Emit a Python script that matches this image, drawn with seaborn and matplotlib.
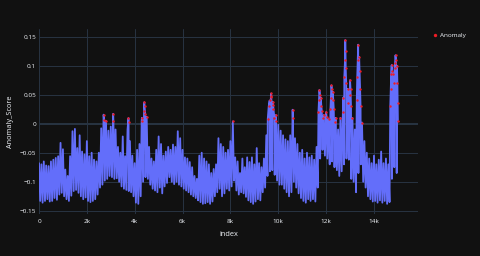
import numpy as np
import pandas as pd
import matplotlib
matplotlib.use('Agg')
import matplotlib.pyplot as plt
import seaborn as sns
from matplotlib.ticker import FixedLocator, FixedFormatter


	# DATA

# top of the noisy band, one value every 100 rows (0 .. 15000)
upper = [-0.068, -0.070, -0.065, -0.072, -0.073, -0.065, -0.062, -0.059, -0.056, -0.033,
         -0.044, -0.079, -0.090, -0.056, -0.013, -0.009, -0.042, -0.020, -0.048, -0.053,
         -0.030, -0.056, -0.050, -0.062, -0.065, -0.050, -0.008, 0.0155, 0.005, -0.012,
         -0.005, 0.017, -0.010, -0.040, -0.050, -0.022, -0.056, -0.010, -0.030, -0.055,
         -0.068, -0.045, -0.035, 0.010, 0.037, 0.012, -0.040, -0.060, -0.065, -0.045,
         -0.022, -0.035, -0.055, -0.048, -0.040, -0.045, -0.036, -0.040, -0.013, -0.025,
         -0.045, -0.058, -0.060, -0.066, -0.075, -0.090, -0.095, -0.055, -0.050, -0.060,
         -0.065, -0.070, -0.085, -0.078, -0.070, -0.025, -0.035, -0.040, -0.050, -0.045,
         -0.030, 0.004, -0.058, -0.065, -0.085, -0.060, -0.075, -0.058, -0.066, -0.058,
         -0.070, -0.042, -0.068, -0.075, -0.060, -0.020, 0.030, 0.052, 0.025, 0.015,
         -0.002, -0.012, -0.020, -0.027, -0.030, -0.020, 0.024, -0.025, -0.035, -0.050,
         -0.045, -0.060, -0.050, -0.058, -0.055, -0.062, -0.040, 0.040, 0.030, 0.015,
         0.020, 0.008, 0.045, 0.040, 0.010, -0.010, 0.010, 0.020, 0.144, 0.060,
         0.075, 0.010, -0.010, 0.080, 0.090, 0.002, -0.030, -0.050, -0.060, -0.068,
         -0.055, -0.070, -0.062, -0.048, -0.068, -0.060, -0.070, 0.060, 0.085, 0.118,
         0.005]

# bottom of the band, one value every 100 rows (50 .. 14950)
lower = [-0.133, -0.136, -0.133, -0.130, -0.134, -0.133, -0.128, -0.131, -0.122, -0.119,
         -0.125, -0.130, -0.133, -0.124, -0.116, -0.114, -0.119, -0.125, -0.130, -0.127,
         -0.133, -0.135, -0.133, -0.130, -0.122, -0.110, -0.105, -0.098, -0.095, -0.090,
         -0.092, -0.095, -0.094, -0.100, -0.108, -0.112, -0.114, -0.116, -0.118, -0.125,
         -0.136, -0.138, -0.125, -0.100, -0.092, -0.095, -0.105, -0.112, -0.115, -0.118,
         -0.110, -0.120, -0.108, -0.102, -0.092, -0.100, -0.104, -0.100, -0.105, -0.108,
         -0.112, -0.115, -0.118, -0.122, -0.125, -0.128, -0.132, -0.135, -0.138, -0.137,
         -0.135, -0.138, -0.134, -0.125, -0.118, -0.112, -0.125, -0.120, -0.112, -0.115,
         -0.108, -0.098, -0.115, -0.122, -0.118, -0.120, -0.126, -0.132, -0.135, -0.138,
         -0.134, -0.130, -0.132, -0.118, -0.110, -0.090, -0.082, -0.080, -0.088, -0.098,
         -0.105, -0.105, -0.112, -0.118, -0.125, -0.118, -0.100, -0.110, -0.120, -0.128,
         -0.133, -0.136, -0.130, -0.133, -0.130, -0.134, -0.110, -0.060, -0.045, -0.055,
         -0.060, -0.070, -0.065, -0.075, -0.080, -0.090, -0.082, -0.070, -0.060, -0.062,
         -0.095, -0.100, -0.118, -0.085, -0.070, -0.100, -0.110, -0.125, -0.130, -0.134,
         -0.133, -0.136, -0.132, -0.136, -0.133, -0.138, -0.135, -0.095, -0.075, -0.085]

# extra rows up the flanks of the spikes
spike_index = [2720, 3110, 3740, 3745, 4290, 4390, 4410, 4440,
               9560, 9640, 9690, 9710, 9760, 9790, 9840, 9890, 10610,
               11680, 11720, 11740, 11780, 11820, 11880, 12020,
               12180, 12220, 12240, 12280, 12320, 12380,
               12720, 12760, 12790, 12810, 12820, 12840, 12920, 12990, 13020, 13040,
               13280, 13320, 13340, 13380, 13420, 13440,
               14680, 14720, 14740, 14760, 14820, 14860, 14880, 14920, 14960, 14980, 14990]
spike_score = [0.006, 0.004, 0.0097, 0.003, 0.004, 0.022, 0.030, 0.017,
               0.008, 0.040, 0.046, 0.048, 0.038, 0.032, 0.010, 0.005, 0.010,
               0.020, 0.058, 0.050, 0.045, 0.022, 0.010, 0.012,
               0.025, 0.066, 0.060, 0.055, 0.025, 0.003,
               0.045, 0.080, 0.110, 0.125, 0.095, 0.070, 0.035, 0.050, 0.060, 0.030,
               0.040, 0.110, 0.136, 0.115, 0.060, 0.030,
               0.030, 0.085, 0.101, 0.090, 0.070, 0.095, 0.105, 0.110, 0.100, 0.070, 0.035]

x_ticks = [0, 2000, 4000, 6000, 8000, 10000, 12000, 14000]
x_labels = ['0', '2k', '4k', '6k', '8k', '10k', '12k', '14k']
y_ticks = [-0.15, -0.1, -0.05, 0, 0.05, 0.1, 0.15]
y_labels = ['\u22120.15', '\u22120.1', '\u22120.05', '0', '0.05', '0.1', '0.15']


df = pd.DataFrame({'index': np.r_[np.arange(0, 15001, 100), np.arange(50, 15000, 100), spike_index],
                   'Anomaly_Score': np.r_[upper, lower, spike_score]})
df = df.sort_values('index').reset_index(drop=True)
anom = df[df.Anomaly_Score > 0]


sns.set_style('dark')
plt.rcParams['font.family'] = ['Open Sans', 'DejaVu Sans']
bg = '#111111'
grid = '#283442'
txt = '#f2f5fa'

fig = plt.figure(figsize=(4.8, 2.56), dpi=100, facecolor=bg)
ax = fig.add_axes([39/480, 1-214/256, 379/480, 185/256])
ax.set_facecolor(bg)

sns.lineplot(data=df, x='index', y='Anomaly_Score', sort=False, estimator=None,
             color='#636efa', linewidth=1.3, ax=ax, zorder=3)
sns.scatterplot(data=anom, x='index', y='Anomaly_Score', color='#ee1c25', s=3,
                linewidth=0, label='Anomaly', ax=ax, zorder=4)

ax.set_xlim(0, 15840)
ax.set_ylim(-0.1555, 0.163)
ax.xaxis.set_major_locator(FixedLocator(x_ticks))
ax.xaxis.set_major_formatter(FixedFormatter(x_labels))
ax.yaxis.set_major_locator(FixedLocator(y_ticks))
ax.yaxis.set_major_formatter(FixedFormatter(y_labels))
ax.grid(True, color=grid, linewidth=0.7, zorder=0)
ax.axhline(0, color=grid, linewidth=1.4, zorder=1)
ax.set_axisbelow(True)
for s in ax.spines.values():
    s.set_visible(False)
ax.tick_params(length=0, colors=txt, labelsize=4.6)
ax.tick_params(axis='x', pad=3.5)
ax.tick_params(axis='y', pad=2)
ax.set_xlabel('index', color=txt, fontsize=5.3, labelpad=5)
ax.set_ylabel('Anomaly_Score', color=txt, fontsize=5.3, labelpad=4)

leg = ax.legend(loc='upper left', bbox_to_anchor=(0.892, 0.885), bbox_transform=fig.transFigure,
                frameon=False, fontsize=4.6, handletextpad=0.4, markerscale=1.4,
                borderpad=0, handlelength=1.0)
for t in leg.get_texts():
    t.set_color(txt)

plt.savefig('out.png', dpi=100, facecolor=bg)
